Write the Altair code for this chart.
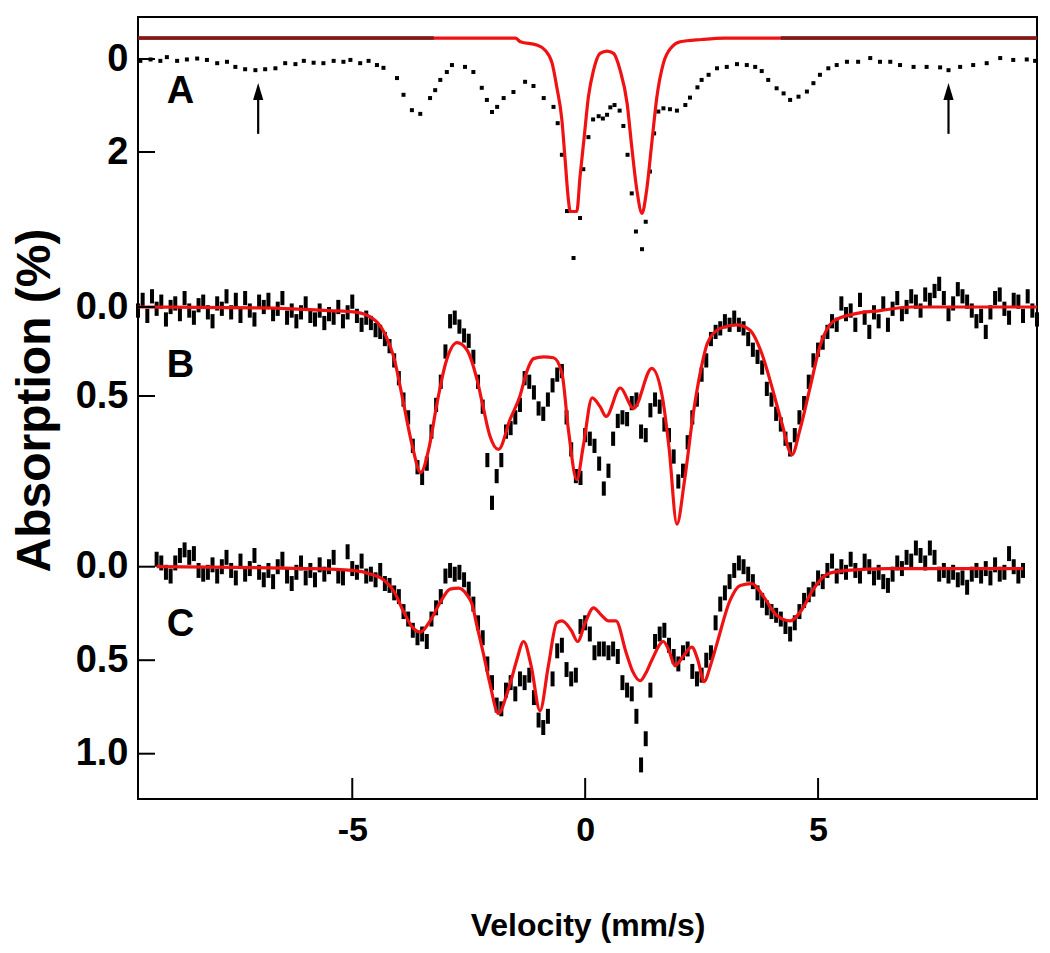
import altair as alt
import numpy as np
import pandas as pd

FONT = "Liberation Sans"
RED = "#f01212"
W, H = 899, 782

# zero position (px below the top of the frame) and px per 1 % absorption, per panel
PANEL_ZERO = {"A": 42.0, "B": 290.0, "C": 549.7}
PANEL_SCALE = {"A": 46.5, "B": 178.0, "C": 187.0}

# ---------------- Panel A ----------------
A_DATA_X = [-9.55, -9.33, -9.12, -8.98, -8.76, -8.55, -8.33, -8.12, -7.90, -7.69,
            -7.51, -7.30, -7.08, -6.87, -6.65, -6.44, -6.22, -6.04, -5.83, -5.62,
            -5.40, -5.19, -5.04, -4.83, -4.65, -4.47, -4.33, -4.04, -3.90, -3.72,
            -3.54, -3.33, -3.22, -3.11, -2.97, -2.86, -2.58, -2.40, -2.22, -2.11,
            -2.00, -1.89, -1.75, -1.54, -1.29, -1.11, -0.89, -0.68, -0.59, -0.50,
            -0.39, -0.25, -0.11, -0.04, 0.07, 0.17, 0.29, 0.38, 0.47, 0.54,
            0.63, 0.74, 0.82, 0.91, 1.00, 1.09, 1.22, 1.30, 1.39, 1.48,
            1.57, 1.68, 1.82, 1.97, 2.15, 2.25, 2.41, 2.50, 2.65, 2.83,
            3.04, 3.26, 3.47, 3.65, 3.79, 3.93, 4.11, 4.26, 4.40, 4.58,
            4.76, 4.90, 5.04, 5.22, 5.40, 5.62, 5.86, 6.12, 6.33, 6.55,
            6.76, 7.05, 7.33, 7.62, 7.80, 8.05, 8.33, 8.62, 8.91, 9.19,
            9.48, 9.66]
A_DATA_V = [0.04, 0.01, 0.04, -0.04, 0.04, 0.01, -0.01, 0.02, 0.09, 0.06,
            0.17, 0.22, 0.24, 0.22, 0.20, 0.09, 0.11, 0.04, 0.08, 0.09,
            0.04, 0.06, 0.02, 0.09, 0.04, 0.13, 0.19, 0.41, 0.77, 1.10,
            1.18, 0.84, 0.67, 0.45, 0.28, 0.13, 0.17, 0.28, 0.62, 0.88,
            1.14, 1.03, 0.84, 0.71, 0.49, 0.58, 0.84, 1.03, 1.38, 2.06,
            3.27, 4.28, 3.42, 2.37, 1.68, 1.30, 1.23, 1.28, 1.20, 1.04,
            0.99, 1.11, 1.44, 2.06, 2.89, 3.71, 4.09, 3.50, 2.42, 1.60,
            1.13, 1.06, 1.08, 1.11, 0.99, 0.83, 0.61, 0.45, 0.34, 0.20,
            0.17, 0.11, 0.13, 0.17, 0.26, 0.45, 0.63, 0.74, 0.88, 0.81,
            0.70, 0.52, 0.34, 0.20, 0.13, 0.06, 0.06, -0.02, 0.06, 0.06,
            0.13, 0.17, 0.17, 0.18, 0.24, 0.17, 0.13, 0.09, -0.02, 0.02,
            0.01, 0.04]
A_FIT_X = [-9.6, -1.5, -1.39, -1.04, -0.86, -0.71, -0.61, -0.50, -0.43, -0.36,
           -0.32, -0.18, -0.11, -0.02, 0.07, 0.18, 0.32, 0.47, 0.61, 0.75,
           0.90, 1.00, 1.11, 1.22, 1.32, 1.43, 1.54, 1.68, 1.86, 2.04,
           2.5, 3.0, 9.7]
A_FIT_V = [-0.45, -0.45, -0.37, -0.30, -0.19, 0.09, 0.60, 1.31, 2.17, 3.03,
           3.28, 3.28, 2.53, 1.67, 0.81, 0.24, -0.12, -0.17, -0.12, 0.24,
           0.95, 1.89, 2.82, 3.32, 2.82, 1.81, 0.81, 0.09, -0.26, -0.37,
           -0.42, -0.45, -0.45]
A_DARK_SPANS = [(-9.6, -3.25), (4.2, 9.7)]
A_DARK_V = -0.45
ARROW_X = [-7.02, 7.80]
ARROW_TAIL_V, ARROW_SHAFT_V, ARROW_HEAD_V = 1.61, 0.80, 0.70

# ---------------- Panel B ----------------
B_DATA_START = -9.6
B_DATA_V = [
    0.02, -0.04, 0.05, -0.06, 0.01, -0.03, 0.07, 0.00, -0.02, 0.04,   # -9.6
    -0.05, 0.02, 0.06, -0.01, -0.03, 0.03, 0.08, -0.02, 0.01, -0.06,  # -8.6
    0.03, -0.04, 0.05, -0.05, 0.02, 0.07, -0.03, 0.00, -0.04, 0.04,   # -7.6
    0.01, -0.05, 0.06, 0.02, 0.08, 0.03, -0.02, 0.05, 0.07, 0.02,     # -6.6
    0.09, 0.04, 0.06, 0.00, 0.08, 0.03, -0.03, 0.05, 0.10, 0.06,      # -5.6
    0.09, 0.13, 0.14, 0.18, 0.22, 0.30, 0.40, 0.52, 0.62, 0.78,       # -4.6
    0.90, 0.96, 0.88, 0.70, 0.55, 0.42, 0.25, 0.08, 0.06, 0.11,       # -3.6
    0.16, 0.19, 0.28, 0.42, 0.56, 0.86, 1.10, 0.95, 0.86, 0.70,       # -2.6
    0.68, 0.62, 0.55, 0.40, 0.42, 0.48, 0.57, 0.60, 0.52, 0.44,       # -1.6
    0.38, 0.36, 0.62, 0.80, 0.95, 0.96, 0.72, 0.74, 0.78, 0.88,       # -0.6
    1.02, 0.92, 0.74, 0.64, 0.62, 0.63, 0.54, 0.52, 0.70, 0.72,       # 0.4
    0.58, 0.52, 0.56, 0.66, 0.72, 0.84, 0.98, 0.92, 0.76, 0.62,       # 1.4
    0.52, 0.38, 0.30, 0.18, 0.14, 0.12, 0.08, 0.10, 0.06, 0.10,       # 2.4
    0.12, 0.18, 0.24, 0.28, 0.34, 0.46, 0.52, 0.60, 0.66, 0.74,       # 3.4
    0.80, 0.72, 0.62, 0.54, 0.42, 0.30, 0.24, 0.20, 0.14, 0.08,       # 4.4
    0.10, -0.02, 0.04, 0.02, 0.10, -0.04, 0.06, 0.14, 0.03, 0.08,     # 5.4
    -0.02, 0.10, 0.01, -0.05, 0.04, 0.00, -0.06, -0.03, 0.02, -0.07,  # 6.4
    -0.04, -0.09, -0.13, -0.05, 0.04, -0.02, -0.10, -0.06, -0.03, 0.02,  # 7.4
    0.08, 0.05, 0.14, 0.03, -0.05, -0.07, 0.01, 0.06, -0.04, -0.03,   # 8.4
    0.05, -0.06, 0.02, 0.07,                                          # 9.4
]
B_ERR = 0.04
B_FIT_X = [-9.6, -7.0, -5.5, -4.9, -4.59, -4.45, -4.30, -4.11, -3.90, -3.72,
           -3.53, -3.36, -3.18, -3.00, -2.75, -2.54, -2.32, -2.20, -2.05, -1.86,
           -1.61, -1.40, -1.25, -1.11, -0.89, -0.68, -0.50, -0.36, -0.18, -0.04,
           0.15, 0.32, 0.45, 0.75, 1.04, 1.43, 1.66, 1.80, 1.97, 2.13,
           2.32, 2.47, 2.63, 2.90, 3.26, 3.54, 3.79, 4.01, 4.22, 4.44,
           4.61, 4.83, 5.04, 5.33, 5.76, 6.33, 7.0, 9.7]
B_FIT_V = [0.0, 0.005, 0.02, 0.03, 0.06, 0.09, 0.15, 0.28, 0.54, 0.77,
           0.93, 0.80, 0.54, 0.32, 0.20, 0.24, 0.41, 0.55, 0.72, 0.80,
           0.63, 0.50, 0.36, 0.29, 0.28, 0.285, 0.37, 0.69, 0.97, 0.78,
           0.51, 0.56, 0.615, 0.455, 0.57, 0.345, 0.51, 0.79, 1.22, 0.98,
           0.60, 0.37, 0.20, 0.12, 0.10, 0.13, 0.26, 0.45, 0.65, 0.83,
           0.69, 0.45, 0.22, 0.08, 0.04, 0.02, 0.0, 0.0]

# ---------------- Panel C ----------------
C_DATA_START = -9.2
C_DATA_V = [
    -0.04, -0.02, 0.03, 0.05, -0.02, -0.06, -0.09, -0.05, -0.07, 0.02,  # -9.2
    0.04, 0.03, -0.01, 0.05, 0.00, -0.05, 0.02, 0.06, -0.03, 0.04,      # -8.2
    0.01, -0.06, 0.03, 0.07, 0.02, 0.08, 0.00, -0.04, 0.05, 0.09,       # -7.2
    0.03, -0.02, 0.06, 0.02, 0.07, -0.01, 0.04, 0.00, -0.05, 0.05,      # -6.2
    0.06, -0.08, 0.01, 0.03, -0.03, 0.05, 0.04, 0.07, 0.02, 0.09,       # -5.2
    0.10, 0.14, 0.16, 0.24, 0.28, 0.34, 0.38, 0.36, 0.40, 0.28,         # -4.2
    0.22, 0.16, 0.05, 0.02, 0.04, 0.03, 0.07, 0.12, 0.20, 0.30,         # -3.2
    0.38, 0.52, 0.62, 0.74, 0.76, 0.66, 0.62, 0.68, 0.60, 0.62,         # -2.2
    0.58, 0.70, 0.82, 0.86, 0.80, 0.60, 0.45, 0.42, 0.55, 0.60,         # -1.2
    0.58, 0.32, 0.30, 0.36, 0.46, 0.44, 0.44, 0.46, 0.44, 0.48,         # -0.2
    0.62, 0.66, 0.68, 0.80, 1.06, 0.92, 0.66, 0.40, 0.36, 0.34,         # 0.8
    0.42, 0.48, 0.52, 0.46, 0.44, 0.56, 0.60, 0.58, 0.50, 0.46,         # 1.8
    0.30, 0.20, 0.14, 0.08, 0.02, -0.02, 0.00, 0.04, 0.08, 0.14,        # 2.8
    0.18, 0.22, 0.24, 0.26, 0.28, 0.32, 0.36, 0.30, 0.24, 0.18,         # 3.8
    0.15, 0.12, 0.06, 0.08, 0.02, -0.03, 0.05, 0.00, 0.03, -0.04,       # 4.8
    0.02, 0.05, -0.03, 0.00, 0.06, 0.03, 0.08, 0.10, 0.04, -0.02,       # 5.8
    0.01, -0.05, -0.03, -0.10, -0.06, -0.02, -0.10, -0.05, 0.04, 0.02,  # 6.8
    0.05, 0.03, 0.07, 0.06, 0.11, 0.04, 0.02, 0.05, 0.01, 0.06,         # 7.8
    -0.01, 0.04, 0.03, -0.07, 0.00, 0.05, 0.02,                         # 8.8
]
C_ERR = 0.04
C_FIT_X = [-9.2, -6.0, -5.0, -4.6, -4.33, -4.11, -3.90, -3.72, -3.54, -3.33,
           -3.11, -2.90, -2.72, -2.54, -2.43, -2.32, -2.18, -2.05, -1.86, -1.68,
           -1.57, -1.47, -1.32, -1.16, -0.97, -0.79, -0.61, -0.50, -0.30, -0.16,
           0.0, 0.18, 0.35, 0.50, 0.66, 0.88, 1.02, 1.18, 1.30, 1.43,
           1.68, 1.80, 1.93, 2.10, 2.29, 2.42, 2.55, 2.70, 2.83, 3.11,
           3.33, 3.58, 3.83, 4.11, 4.40, 4.65, 4.90, 5.19, 5.62, 6.5, 9.4]
C_FIT_V = [0.0, 0.01, 0.02, 0.04, 0.07, 0.13, 0.24, 0.32, 0.35, 0.29,
           0.19, 0.12, 0.115, 0.15, 0.20, 0.32, 0.47, 0.62, 0.785, 0.68,
           0.59, 0.50, 0.40, 0.53, 0.77, 0.53, 0.30, 0.29, 0.34, 0.40,
           0.30, 0.22, 0.26, 0.29, 0.29, 0.46, 0.56, 0.61, 0.57, 0.50,
           0.40, 0.45, 0.53, 0.48, 0.43, 0.50, 0.615, 0.52, 0.41, 0.18,
           0.10, 0.09, 0.16, 0.26, 0.29, 0.23, 0.12, 0.04, 0.02, 0.01, 0.01]

# ---------------- axes / annotations ----------------
Y_TICKS = [("A", 0.0, "0"), ("A", 2.0, "2"),
           ("B", 0.0, "0.0"), ("B", 0.5, "0.5"),
           ("C", 0.0, "0.0"), ("C", 0.5, "0.5"), ("C", 1.0, "1.0")]
X_TICKS = [-5, 0, 5]
LETTERS = [("A", -8.69, 0.71), ("B", -8.69, 0.33), ("C", -8.69, 0.31)]


def pos(panel, v):
    return PANEL_ZERO[panel] + PANEL_SCALE[panel] * np.asarray(v, dtype=float)


# ---------------- tables ----------------
fit_df = pd.concat([
    pd.DataFrame({"panel": "A", "x": A_FIT_X, "y": pos("A", A_FIT_V)}),
    pd.DataFrame({"panel": "B", "x": B_FIT_X, "y": pos("B", B_FIT_V)}),
    pd.DataFrame({"panel": "C", "x": C_FIT_X, "y": pos("C", C_FIT_V)}),
], ignore_index=True)

dark_rows = []
for i, (x0, x1) in enumerate(A_DARK_SPANS):
    dark_rows.append({"seg": i, "x": x0, "y": float(pos("A", A_DARK_V))})
    dark_rows.append({"seg": i, "x": x1, "y": float(pos("A", A_DARK_V))})
dark_df = pd.DataFrame(dark_rows)

pts_df = pd.DataFrame({"x": A_DATA_X, "y": pos("A", A_DATA_V)})

bv = np.array(B_DATA_V)
cv = np.array(C_DATA_V)
bx = np.round(B_DATA_START + 0.1 * np.arange(len(bv)), 2)
cx = np.round(C_DATA_START + 0.1 * np.arange(len(cv)), 2)
bars_df = pd.concat([
    pd.DataFrame({"x": bx, "lo": pos("B", bv - B_ERR), "hi": pos("B", bv + B_ERR)}),
    pd.DataFrame({"x": cx, "lo": pos("C", cv - C_ERR), "hi": pos("C", cv + C_ERR)}),
], ignore_index=True)

arrow_df = pd.DataFrame({"x": ARROW_X,
                         "y": [float(pos("A", ARROW_TAIL_V))] * len(ARROW_X),
                         "y2": [float(pos("A", ARROW_SHAFT_V))] * len(ARROW_X),
                         "yh": [float(pos("A", ARROW_HEAD_V))] * len(ARROW_X)})

letters_df = pd.DataFrame({"txt": [l[0] for l in LETTERS], "x": [l[1] for l in LETTERS],
                           "y": [float(pos(l[0], l[2])) for l in LETTERS]})

ytick_pos = [round(float(pos(p, v)), 2) for p, v, _ in Y_TICKS]
ytick_df = pd.DataFrame({"y": ytick_pos})
xtick_df = pd.DataFrame({"x": X_TICKS})

label_expr = ""
for (p, v, lab), yp in zip(Y_TICKS, ytick_pos):
    label_expr += f"abs(datum.value - {yp}) < 0.5 ? '{lab}' : "
label_expr += "''"

# ---------------- encodings ----------------
XS = alt.Scale(domain=[-9.6, 9.7], nice=False, zero=False)
YS = alt.Scale(domain=[0, H], reverse=True, nice=False, zero=False)

XAXIS = alt.Axis(values=X_TICKS, ticks=False, domain=False, grid=False,
                 labelExpr="datum.value < 0 ? '-' + toString(-datum.value) : toString(datum.value)",
                 labelFont=FONT, labelFontSize=34, labelFontWeight="bold", labelColor="black",
                 labelPadding=14, labelOverlap=False,
                 title="Velocity (mm/s)", titleFont=FONT, titleFontSize=32,
                 titleFontWeight="bold", titleColor="black",
                 titleX=W / 2, titleY=126, titleBaseline="middle", titleAlign="center")
YAXIS = alt.Axis(values=ytick_pos, labelExpr=label_expr, ticks=False, domain=False, grid=False,
                 labelFont=FONT, labelFontSize=38, labelFontWeight="bold", labelColor="black",
                 labelPadding=10, labelAlign="right", labelBaseline="middle", labelOverlap=False,
                 title="Absorption (%)", titleFont=FONT, titleFontSize=48,
                 titleFontWeight="bold", titleColor="black",
                 titleX=-103, titleY=H / 2 - 8, titleAngle=270, titleAlign="center",
                 titleBaseline="middle")


def xenc(field="x:Q"):
    return alt.X(field, scale=XS, axis=XAXIS)


def yenc(field="y:Q"):
    return alt.Y(field, scale=YS, axis=YAXIS)


bars = alt.Chart(bars_df).mark_rule(color="black", strokeWidth=4).encode(
    x=xenc(), y=yenc("lo:Q"), y2=alt.Y2("hi:Q"))

points = alt.Chart(pts_df).mark_square(color="black", size=16, opacity=1).encode(
    x=xenc(), y=yenc())

fits = alt.Chart(fit_df).mark_line(color=RED, strokeWidth=3.2, interpolate="monotone").encode(
    x=xenc(), y=yenc(), detail="panel:N")

dark = alt.Chart(dark_df).mark_line(color="#7a1c1c", strokeWidth=3.5).encode(
    x=xenc(), y=yenc(), detail="seg:N")

arrow_shaft = alt.Chart(arrow_df).mark_rule(color="black", strokeWidth=2.2).encode(
    x=xenc(), y=yenc("y:Q"), y2=alt.Y2("y2:Q"))
arrow_head = alt.Chart(arrow_df).mark_point(
    shape="M0,-1L0.6,1L-0.6,1Z", filled=True, size=290, color="black", opacity=1,
    strokeWidth=0).encode(x=xenc(), y=yenc("yh:Q"))

letters = alt.Chart(letters_df).mark_text(font=FONT, fontSize=38, fontWeight="bold",
                                          color="black", align="center",
                                          baseline="middle").encode(
    x=xenc(), y=yenc(), text="txt:N")

yticks = alt.Chart(ytick_df).mark_rule(color="black", strokeWidth=2).encode(
    y=yenc(), x=alt.value(0), x2=alt.value(17))
xticks = alt.Chart(xtick_df).mark_rule(color="black", strokeWidth=2).encode(
    x=xenc(), y=alt.value(H), y2=alt.value(H - 21))

chart = alt.layer(bars, points, fits, dark, arrow_shaft, arrow_head, letters, yticks, xticks).properties(
    width=W, height=H,
    autosize=alt.AutoSizeParams(type="none"),
    padding={"left": 130, "top": 9, "right": 5, "bottom": 146},
    background="white",
).configure_view(stroke="black", strokeWidth=2)

chart.save("out.html", embed_options={"renderer": "svg", "actions": False})
